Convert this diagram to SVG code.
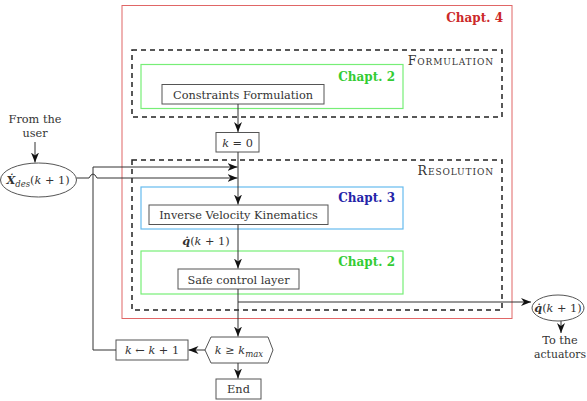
<svg xmlns="http://www.w3.org/2000/svg" width="587" height="401" viewBox="0 0 587 401">
<defs>
<marker id="ah" viewBox="0 0 10 8" refX="10" refY="4" markerWidth="10" markerHeight="8" markerUnits="userSpaceOnUse" orient="auto">
<path d="M0,0 L10,4 L0,8 L3,4 z" fill="#111"/>
</marker>
<style>
text{font-family:'DejaVu Serif','Liberation Serif',serif}
.t{font-size:11.3px;fill:#333;text-anchor:middle}
.b{fill:#fff;stroke:#555;stroke-width:1}
.dash{fill:none;stroke:#222;stroke-width:1.5;stroke-dasharray:5,4}
.ch{font-size:12px;font-weight:bold;text-anchor:end}
.sc{font-size:12.5px;fill:#333;text-anchor:end;font-variant:small-caps;letter-spacing:0.9px}
.c{fill:none;stroke:#333;stroke-width:1}
.ca{fill:none;stroke:#333;stroke-width:1;marker-end:url(#ah)}
.i{font-style:italic}
</style>
</defs>

<g id="chapter4">
<rect x="122" y="5.5" width="390" height="313" fill="none" stroke="#e06666" stroke-width="1"/>
<text class="ch" x="503" y="22" fill="#cc2a2a">Chapt. 4</text>
</g>

<g id="formulation">
<rect class="dash" x="132" y="50" width="370" height="67"/>
<text class="sc" x="494" y="65">Formulation</text>
</g>
<g id="chapter2a">
<rect x="141" y="64.5" width="262" height="44" fill="none" stroke="#77ee77" stroke-width="1.2"/>
<text class="ch" x="395" y="81" fill="#33cc33">Chapt. 2</text>
</g>
<g id="constraints">
<rect class="b" x="162" y="84.5" width="162" height="19.5"/>
<text class="t" x="243" y="98.5">Constraints Formulation</text>
</g>

<g id="k0">
<rect class="b" x="216" y="132.5" width="43" height="19.5"/>
<text class="t" x="237.5" y="146.5"><tspan class="i">k</tspan> = 0</text>
</g>

<g id="resolution">
<rect class="dash" x="132" y="160" width="370" height="150"/>
<text class="sc" x="494" y="175">Resolution</text>
</g>
<g id="chapter3">
<rect x="141" y="187" width="262" height="42" fill="none" stroke="#66bbee" stroke-width="1.2"/>
<text class="ch" x="395" y="202" fill="#2424a8">Chapt. 3</text>
</g>
<g id="ivk">
<rect class="b" x="149" y="205" width="179" height="19.5"/>
<text class="t" x="238.5" y="219">Inverse Velocity Kinematics</text>
</g>

<g id="chapter2b">
<rect x="141" y="251" width="262" height="43" fill="none" stroke="#77ee77" stroke-width="1.2"/>
<text class="ch" x="395" y="266" fill="#33cc33">Chapt. 2</text>
</g>
<g id="safe">
<rect class="b" x="178" y="269" width="121" height="20"/>
<text class="t" x="238.5" y="283.5">Safe control layer</text>
</g>

<g id="decision">
<polygon class="b" points="205,350 211,337 268,337 273,350 268,363 211,363"/>
<text class="t" x="239" y="354"><tspan class="i">k</tspan> ≥ <tspan class="i">k</tspan><tspan class="i" font-size="8.5" dy="3">max</tspan></text>
</g>
<g id="increment">
<rect class="b" x="116" y="340" width="72" height="20"/>
<text class="t" x="152" y="354"><tspan class="i">k</tspan> ← <tspan class="i">k</tspan> + 1</text>
</g>
<g id="end">
<rect class="b" x="216" y="379" width="45" height="20"/>
<text class="t" x="238.5" y="393">End</text>
</g>

<g id="xdes">
<text class="t" x="35" y="123">From the</text>
<text class="t" x="35" y="137">user</text>
<ellipse class="b" cx="38.5" cy="180" rx="38" ry="17"/>
<text class="t" x="38" y="184"><tspan font-weight="bold" font-style="italic">Ẋ</tspan><tspan class="i" font-size="8.5" dy="3">des</tspan><tspan dy="-3">(</tspan><tspan class="i">k</tspan> + 1)</text>
</g>

<g id="qdot-out">
<ellipse class="b" cx="558" cy="308" rx="26" ry="13"/>
<text class="t" x="558" y="312"><tspan font-weight="bold" font-style="italic">q̇</tspan>(<tspan class="i">k</tspan> + 1)</text>
<text class="t" x="560" y="344">To the</text>
<text class="t" x="560" y="358" textLength="52" lengthAdjust="spacingAndGlyphs">actuators</text>
</g>

<g id="connectors">
<line class="ca" x1="238" y1="104" x2="238" y2="132"/>
<line class="ca" x1="238" y1="152" x2="238" y2="204.5"/>
<line class="ca" x1="238" y1="224.5" x2="238" y2="268.5"/>
<line class="ca" x1="238" y1="289" x2="238" y2="336.5"/>
<line class="ca" x1="238" y1="363" x2="238" y2="378.5"/>
<polyline class="ca" points="238,302 531,302"/>
<line class="ca" x1="205" y1="350" x2="188.5" y2="350"/>
<polyline class="ca" points="116,350 93,350 93,167 237.5,167"/>
<path class="ca" d="M76.5,178 L89,178 Q93,170 97,178 L237.5,178"/>
<line class="ca" x1="35" y1="142" x2="35" y2="162.5"/>
<line class="ca" x1="561" y1="321" x2="561" y2="333"/>
<text class="t" x="206" y="245"><tspan font-weight="bold" font-style="italic">q̇</tspan>(<tspan class="i">k</tspan> + 1)</text>
</g>
</svg>
